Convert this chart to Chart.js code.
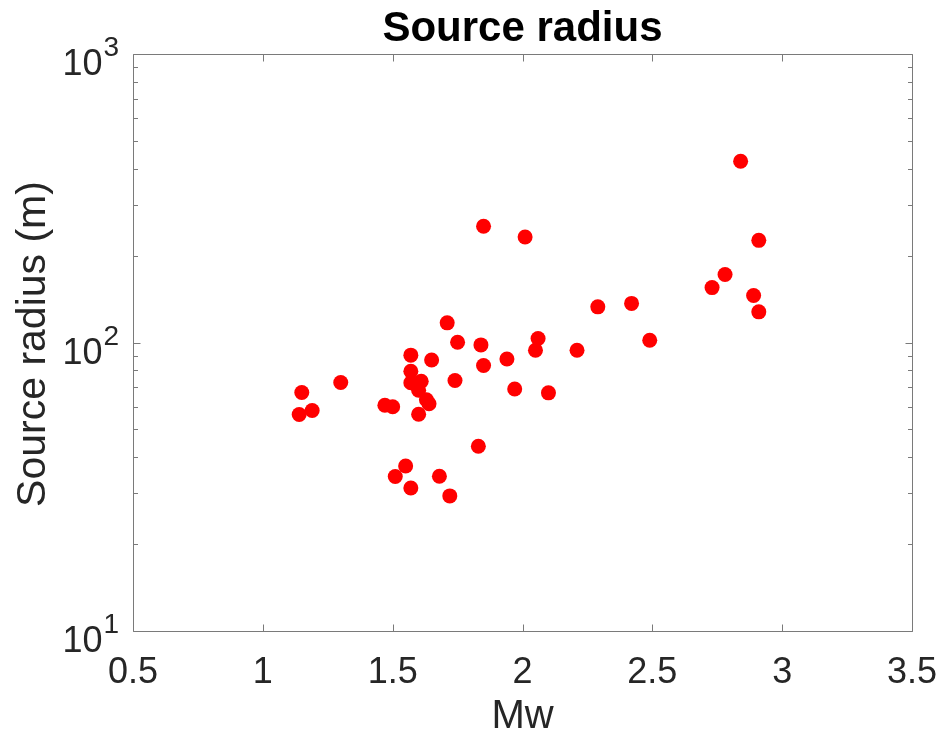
<!DOCTYPE html>
<html><head><meta charset="utf-8">
<style>html,body{margin:0;padding:0;background:#fff;}canvas{display:block;}</style>
<script src="https://cdn.jsdelivr.net/npm/chart.js@4.4.0/dist/chart.umd.min.js"></script>
</head><body>
<canvas id="c" width="941" height="741"></canvas>
<script>
const mw = [1.14,1.15,1.19,1.30,1.47,1.50,1.57,1.57,1.57,1.61,1.60,1.63,1.64,1.60,1.65,1.71,1.75,1.74,1.84,1.85,2.01,2.06,2.05,2.21,1.85,1.94,1.97,2.10,2.29,2.42,2.49,2.78,2.73,2.89,2.91,2.84,2.91,1.83,1.55,1.51,1.57,1.68,1.72];
const radius = [56.3,67.1,58.1,72.7,60.6,59.9,90.4,79.5,72.5,73.4,68.3,63.3,61.3,56.4,87.0,117,100.2,73.8,98.1,253,232,103.3,94.0,94.0,83.2,87.7,69.0,66.9,132.9,136.6,101.8,172,155,145.5,127.7,425,226,43.7,37.3,34.3,31.3,34.4,29.4];
const xTicks = [0.5,1,1.5,2,2.5,3,3.5];
const xTickLabels = ['0.5','1','1.5','2','2.5','3','3.5'];
const yTicks = [10,100,1000];
const yTickExponents = ['1','2','3'];
const yMinorTicks = [20,30,40,50,60,70,80,90,200,300,400,500,600,700,800,900];
const titleText = 'Source radius';
const xTitle = 'Mw';
const yTitle = 'Source radius (m)';

const FONT = '"Liberation Sans", Arial, Helvetica, sans-serif';
const TXT = '#262626';
const AX = '#7a7a7a';

const axesPlugin = {
  id: 'matlabAxes',
  afterDatasetsDraw(chart) {
    const ctx = chart.ctx;
    const a = chart.chartArea;
    const xs = chart.scales.x, ys = chart.scales.y;
    const L = Math.round(a.left) + 0.5, R = Math.round(a.right) + 0.5;
    const T = Math.round(a.top) + 0.5, B = Math.round(a.bottom) + 0.5;
    ctx.save();
    ctx.strokeStyle = AX;
    ctx.lineWidth = 1;
    ctx.beginPath();
    ctx.rect(L, T, R - L, B - T);
    ctx.stroke();
    ctx.beginPath();
    xTicks.forEach(v => {
      const px = Math.round(xs.getPixelForValue(v)) + 0.5;
      ctx.moveTo(px, B); ctx.lineTo(px, B - 7);
      ctx.moveTo(px, T); ctx.lineTo(px, T + 7);
    });
    yTicks.forEach(v => {
      const py = Math.round(ys.getPixelForValue(v)) + 0.5;
      ctx.moveTo(L, py); ctx.lineTo(L + 7, py);
      ctx.moveTo(R, py); ctx.lineTo(R - 7, py);
    });
    yMinorTicks.forEach(v => {
      const py = Math.round(ys.getPixelForValue(v)) + 0.5;
      ctx.moveTo(L, py); ctx.lineTo(L + 4.5, py);
      ctx.moveTo(R, py); ctx.lineTo(R - 4.5, py);
    });
    ctx.stroke();
    ctx.fillStyle = TXT;
    ctx.font = '36px ' + FONT;
    ctx.textAlign = 'center';
    ctx.textBaseline = 'alphabetic';
    xTicks.forEach((v, i) => {
      ctx.fillText(xTickLabels[i], xs.getPixelForValue(v), 683);
    });
    yTicks.forEach((v, i) => {
      const py = ys.getPixelForValue(v);
      ctx.textAlign = 'right';
      ctx.font = '28px ' + FONT;
      ctx.fillText(yTickExponents[i], 119, py + 2);
      const ew = ctx.measureText(yTickExponents[i]).width;
      ctx.font = '36px ' + FONT;
      ctx.fillText('10', 119 - ew - 1, py + 21);
    });
    ctx.textAlign = 'center';
    ctx.font = 'bold 42px ' + FONT;
    ctx.fillStyle = '#000';
    ctx.fillText(titleText, 522.5, 41);
    ctx.fillStyle = TXT;
    ctx.font = '40px ' + FONT;
    ctx.fillText(xTitle, 522.5, 728);
    ctx.font = '41px ' + FONT;
    ctx.translate(45, 344);
    ctx.rotate(-Math.PI / 2);
    ctx.fillText(yTitle, 0, 0);
    ctx.restore();
  }
};

new Chart(document.getElementById('c'), {
  type: 'scatter',
  data: {
    datasets: [{
      data: mw.map((x, i) => ({x: x, y: radius[i]})),
      backgroundColor: '#ff0000',
      borderWidth: 0,
      pointRadius: 7.5,
      pointHoverRadius: 7.5
    }]
  },
  options: {
    responsive: false,
    animation: false,
    devicePixelRatio: 1,
    layout: { padding: { left: 133, top: 54, right: 29, bottom: 110 } },
    plugins: { legend: { display: false }, tooltip: { enabled: false }, title: { display: false } },
    scales: {
      x: { type: 'linear', min: 0.5, max: 3.5, display: false },
      y: { type: 'logarithmic', min: 10, max: 1000, display: false }
    }
  },
  plugins: [axesPlugin]
});
</script>
</body></html>
